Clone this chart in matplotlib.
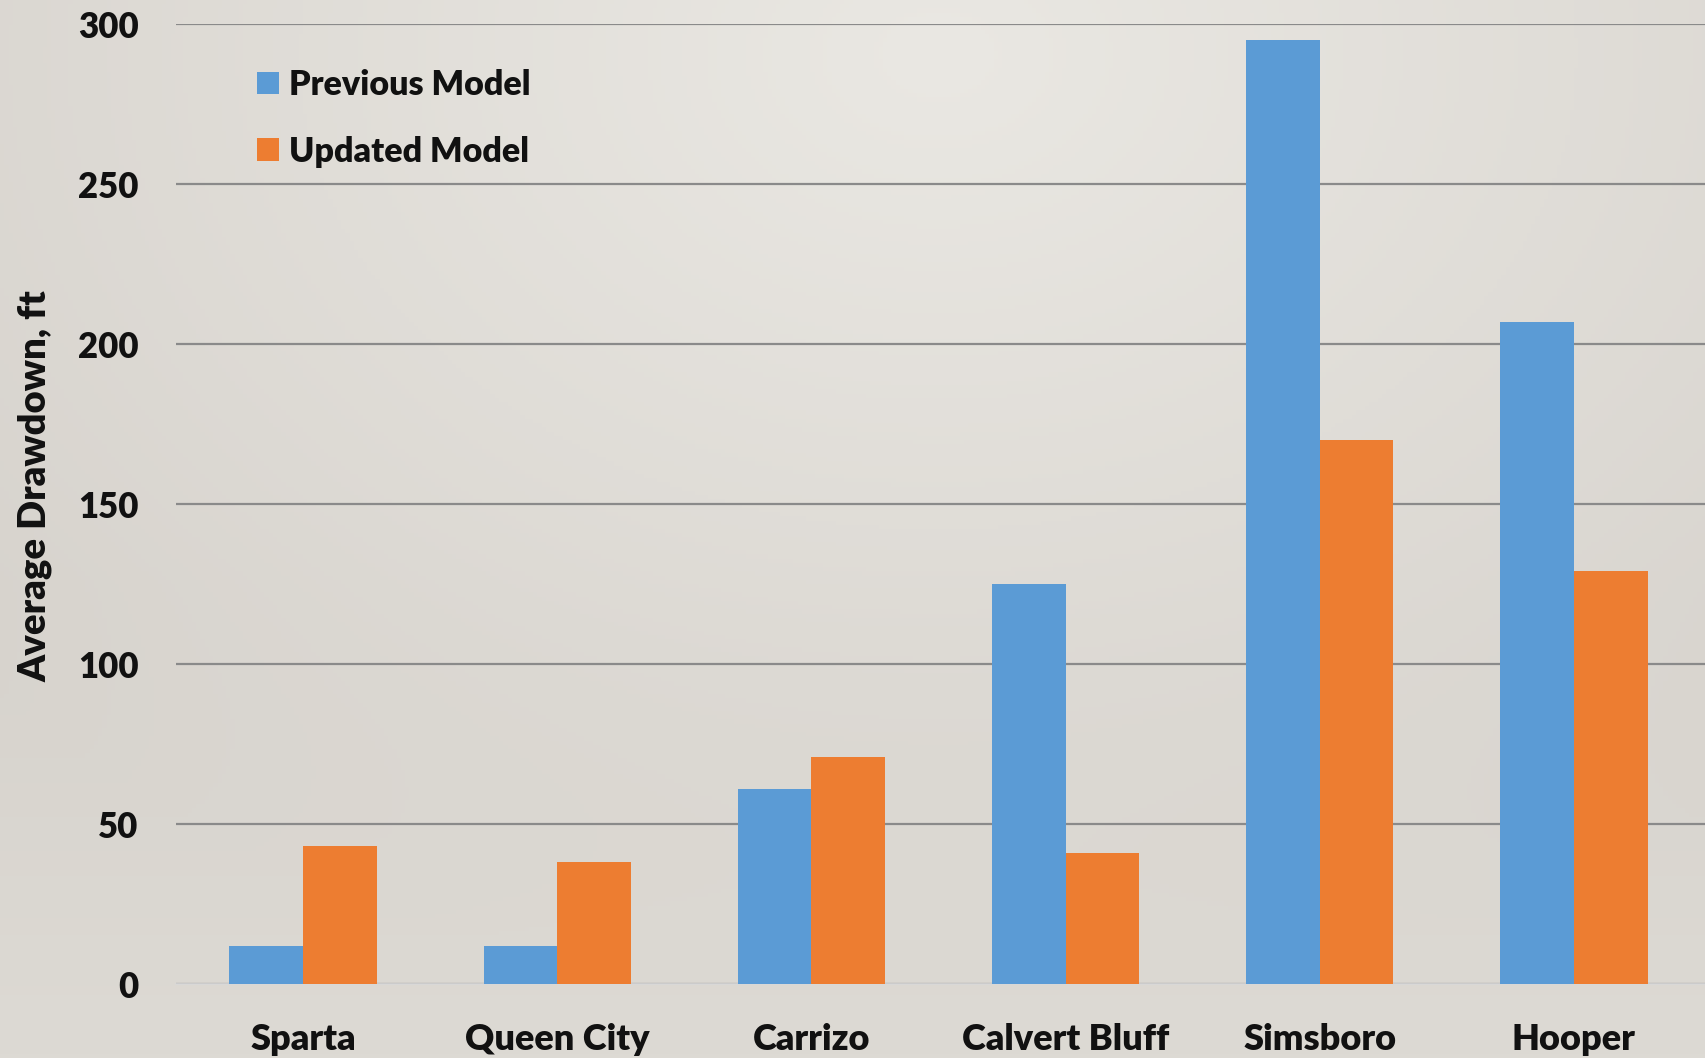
import numpy as np
import matplotlib.pyplot as plt

categories = ["Sparta", "Queen City", "Carrizo", "Calvert Bluff", "Simsboro", "Hooper"]
previous_model = [12, 12, 61, 125, 295, 207]
updated_model = [43, 38, 71, 41, 170, 129]

blue = "#5B9BD5"
orange = "#ED7D31"

plt.rcParams['font.family'] = ['Lato', 'DejaVu Sans']
plt.rcParams['font.weight'] = 'heavy'

fig = plt.figure(figsize=(17.06, 10.58), dpi=100)

# background gradient, light near the top middle, darker towards corners
bg = fig.add_axes([0, 0, 1, 1], zorder=-10)
gx, gy = np.meshgrid(np.linspace(0, 1, 400), np.linspace(0, 1, 250))
d = np.sqrt(((gx - 0.55) / 0.75) ** 2 + ((gy - 0.05) / 0.9) ** 2)
d = np.clip(d, 0, 1)
light = np.array([234, 232, 227]) / 255
dark = np.array([214, 210, 204]) / 255
img = light[None, None, :] * (1 - d[..., None]) + dark[None, None, :] * d[..., None]
# bottom band a bit more uniform
bottom = np.array([221, 218, 212]) / 255
w = np.clip((gy - 0.55) / 0.45, 0, 1)[..., None]
img = img * (1 - w) + bottom[None, None, :] * w
bg.imshow(img, aspect='auto', extent=[0, 1, 1, 0])
bg.axis('off')

ax = fig.add_axes([0.1032, 0.0699, 0.8968, 0.9074])
ax.patch.set_alpha(0)

x = np.arange(len(categories))
width = 0.29
ax.bar(x - width / 2, previous_model, width, color=blue, label="Previous Model", zorder=3)
ax.bar(x + width / 2, updated_model, width, color=orange, label="Updated Model", zorder=3)

ax.set_ylim(0, 300)
ax.set_xlim(-0.5, 5.52)
ax.set_yticks(range(0, 301, 50))
ax.set_xticks(x)
ax.set_xticklabels(categories)

ax.yaxis.grid(True, color="#8a8a8a", linewidth=1.6, zorder=0)
ax.set_axisbelow(True)
for s in ["top", "right", "left"]:
    ax.spines[s].set_visible(False)
ax.spines["bottom"].set_color("#d9d9d9")
ax.spines["bottom"].set_linewidth(1.2)
ax.tick_params(axis='y', length=0, labelsize=25, colors="#111111", pad=27)
ax.tick_params(axis='x', length=0, labelsize=26, colors="#111111", pad=28)
for lbl in ax.get_xticklabels() + ax.get_yticklabels():
    lbl.set_fontweight('heavy')

ax.set_ylabel("Average Drawdown, ft", fontsize=27.5, fontweight='heavy', color="#111111")
ax.yaxis.set_label_coords(-0.081, 0.519)

leg = ax.legend(loc="upper left", bbox_to_anchor=(0.033, 0.985), frameon=False,
                fontsize=24.5, handlelength=0.65, handleheight=0.65, handletextpad=0.3,
                labelspacing=1.02)
for t in leg.get_texts():
    t.set_fontweight('heavy')
    t.set_color("#111111")

fig.savefig("out.png", dpi=100)
